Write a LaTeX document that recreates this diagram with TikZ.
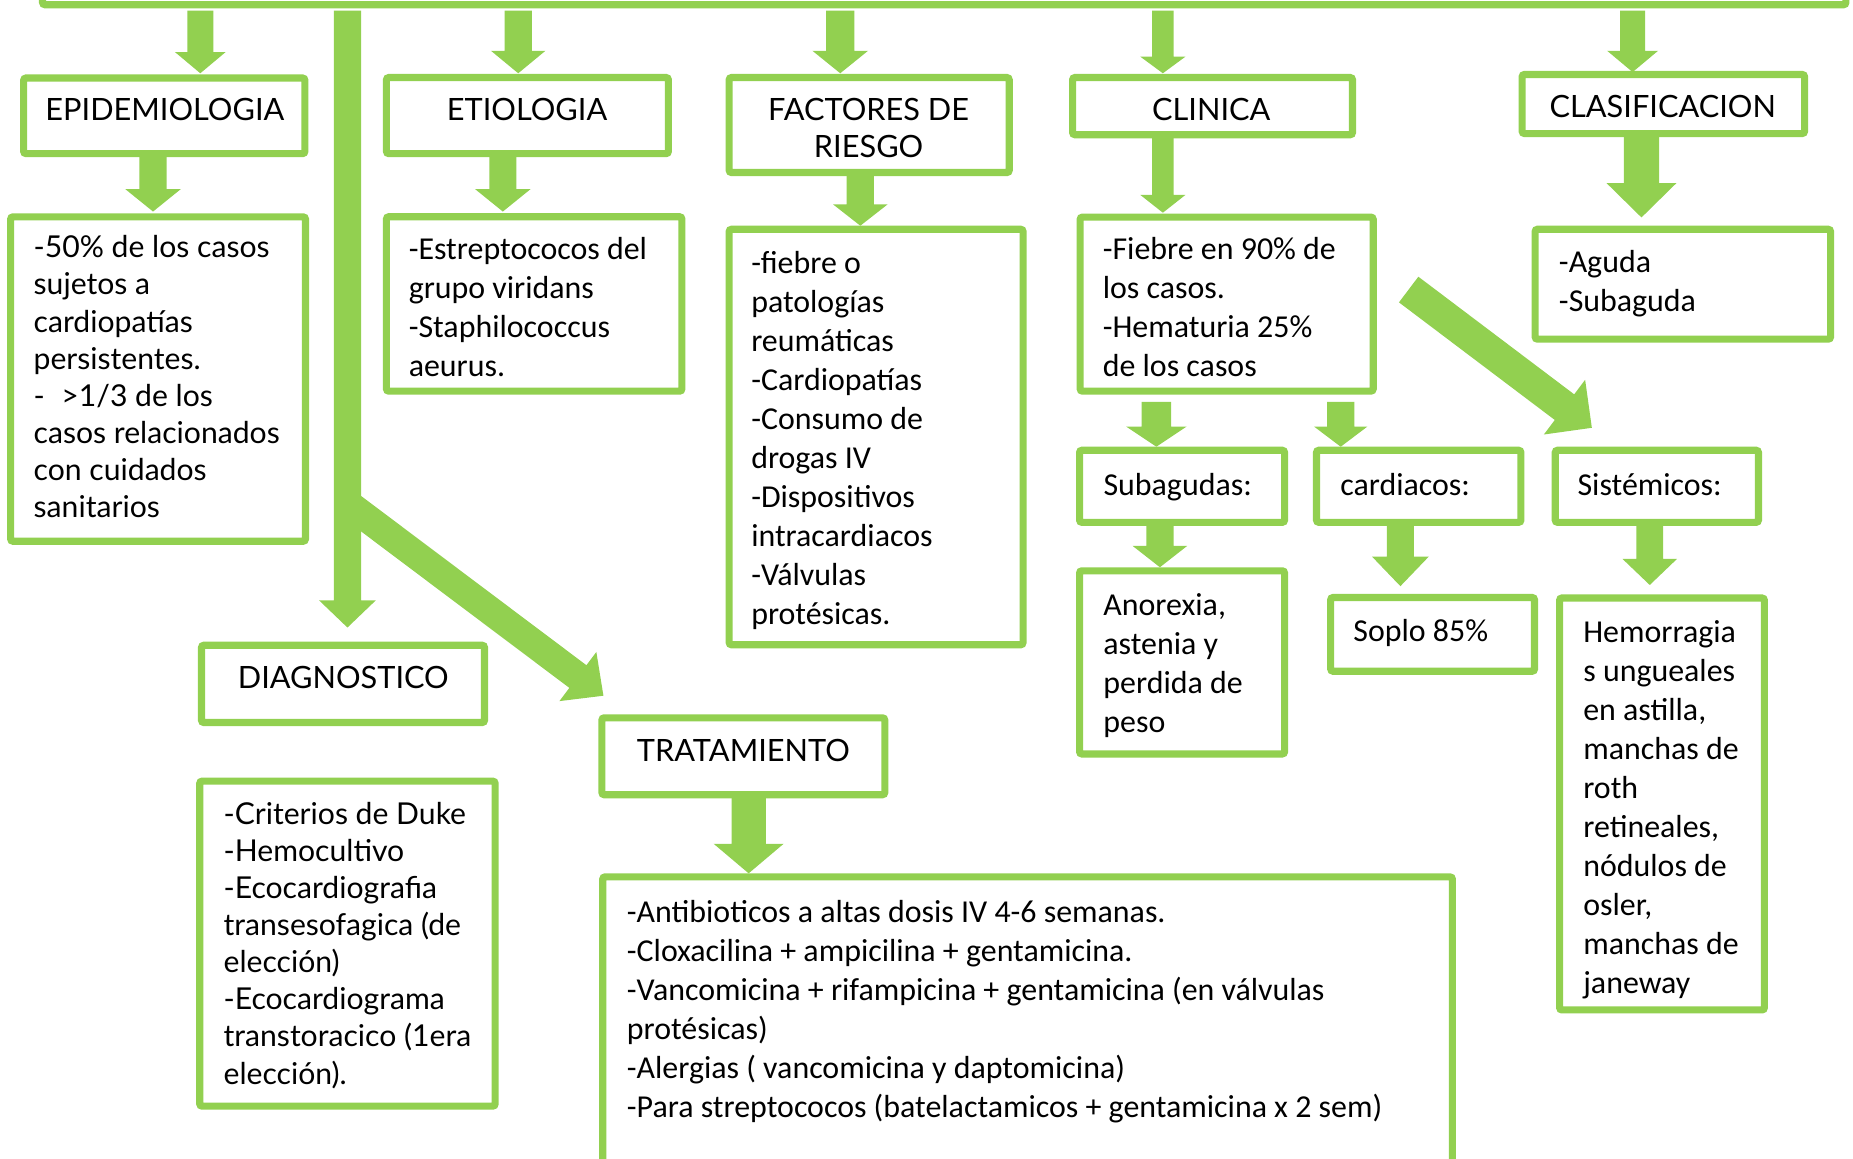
\documentclass[tikz,border=0pt]{standalone}
\usepackage{fontspec}
\setmainfont{Carlito}
\newfontfamily\gill{Lato}
\usetikzlibrary{calc}
\definecolor{lg}{HTML}{92D050}
\newcommand\fl{\rule{0pt}{24pt}}
\newcommand\gl{\rule{0pt}{22pt}}
% block arrow: start, end, shaft half width, head half width, head length
\newcommand\barrow[5]{%
  \coordinate (ba-h) at ($(#2)!#5!(#1)$);
  \fill[lg] ($(#1)!#3!90:(ba-h)$) -- ($(ba-h)!#3!-90:(#1)$) -- ($(ba-h)!#4!-90:(#1)$) -- (#2)
    -- ($(ba-h)!#4!90:(#1)$) -- ($(ba-h)!#3!90:(#1)$) -- ($(#1)!#3!-90:(ba-h)$) -- cycle;}
% box: name, x1, y1, x2, y2 (line centres)
\newcommand\bx[5]{\node[box,anchor=north west,minimum width={(#4-#2)*1pt},minimum height={(#5-#3)*1pt}] (#1) at (#2,#3) {};}
\tikzset{
  box/.style={draw=lg,line width=6pt,rounded corners=2pt,inner sep=0pt,outer sep=0pt},
  body/.style={anchor=north west,align=left,inner sep=0pt,font=\fontsize{27}{33}\selectfont},
  gbody/.style={anchor=north west,align=left,inner sep=0pt,font=\gill\fontsize{25.5}{31.4}\selectfont},
  one/.style={anchor=base west,inner sep=0pt,font=\fontsize{27}{33}\selectfont},
  head/.style={anchor=base,inner sep=0pt,font=\gill\fontsize{26}{31}\selectfont},
}
\begin{document}
\begin{tikzpicture}[x=1pt,y=-1pt]
\useasboundingbox (0,0) rectangle (1568,980.7);
\clip (0,0) rectangle (1568,980.7);
\fill[white] (0,0) rectangle (1568,980.7);

% arrow end points
\coordinate (a1s) at (169.5,9);   \coordinate (a1e) at (169.5,62);
\coordinate (a2s) at (438.5,9);   \coordinate (a2e) at (438.5,62);
\coordinate (a3s) at (711,9);     \coordinate (a3e) at (711,62);
\coordinate (a4s) at (984,9);     \coordinate (a4e) at (984,62);
\coordinate (a5s) at (1381.5,9);  \coordinate (a5e) at (1381.5,61);
\coordinate (a6s) at (294,9);     \coordinate (a6e) at (294,531);
\coordinate (a7s) at (129.5,130); \coordinate (a7e) at (129.5,179);
\coordinate (a8s) at (425.5,130); \coordinate (a8e) at (425.5,179);
\coordinate (a9s) at (728,146);   \coordinate (a9e) at (728,191);
\coordinate (a10s) at (984,114);  \coordinate (a10e) at (984,180);
\coordinate (a11s) at (1389,113); \coordinate (a11e) at (1389,184);
\coordinate (a12s) at (978.5,340); \coordinate (a12e) at (978.5,378);
\coordinate (a13s) at (1134.5,340); \coordinate (a13e) at (1134.5,378);
\coordinate (a14s) at (981.5,442); \coordinate (a14e) at (981.5,480);
\coordinate (a15s) at (1185,442); \coordinate (a15e) at (1185,496);
\coordinate (a16s) at (1396,442); \coordinate (a16e) at (1396,495);
\coordinate (a17s) at (633.5,672); \coordinate (a17e) at (633.5,739);
\coordinate (a18s) at (294,426);  \coordinate (a18e) at (510.6,588.7);
\coordinate (a19s) at (1192,245); \coordinate (a19e) at (1347,362);

\barrow{a1s}{a1e}{11pt}{21.5pt}{18pt}
\barrow{a2s}{a2e}{11.5pt}{23pt}{19pt}
\barrow{a3s}{a3e}{12pt}{23.5pt}{19pt}
\barrow{a4s}{a4e}{9pt}{19pt}{14pt}
\barrow{a5s}{a5e}{10.5pt}{21.5pt}{18pt}
\barrow{a6s}{a6e}{11.5pt}{24pt}{23pt}
\barrow{a7s}{a7e}{11.5pt}{23.5pt}{19pt}
\barrow{a8s}{a8e}{11.5pt}{23.5pt}{19pt}
\barrow{a9s}{a9e}{11.5pt}{23pt}{18pt}
\barrow{a10s}{a10e}{9pt}{19pt}{15pt}
\barrow{a11s}{a11e}{15pt}{29.5pt}{29pt}
\barrow{a12s}{a12e}{12.5pt}{25.5pt}{17pt}
\barrow{a13s}{a13e}{11.5pt}{22.5pt}{17pt}
\barrow{a14s}{a14e}{11.5pt}{23pt}{18pt}
\barrow{a15s}{a15e}{11.5pt}{24pt}{25pt}
\barrow{a16s}{a16e}{11.25pt}{23pt}{22pt}
\barrow{a17s}{a17e}{14.5pt}{29.6pt}{25pt}
\barrow{a18s}{a18e}{12pt}{26pt}{27pt}
\barrow{a19s}{a19e}{13.6pt}{29pt}{29pt}

% boxes
\bx{topbar}{36}{-40}{1562}{4}
\bx{epi}{20}{66}{258}{130}
\bx{epib}{9}{183.5}{258.5}{458}
\bx{etio}{327}{65.6}{565.6}{130}
\bx{etiob}{327}{183.4}{577}{331}
\bx{fact}{617}{65.6}{854}{146}
\bx{factb}{617}{194}{865.7}{545.6}
\bx{clin}{907.6}{65.6}{1144.5}{114}
\bx{clinb}{914}{183.7}{1162}{331}
\bx{clas}{1288}{63}{1527}{113}
\bx{clasb}{1299}{194}{1549}{287}
\bx{suba}{913.5}{381}{1087}{442}
\bx{card}{1114}{381}{1287}{442}
\bx{sist}{1316}{381}{1488}{442}
\bx{anor}{913.5}{483}{1087}{638}
\bx{soplo}{1126}{505.6}{1298.5}{568}
\bx{hemo}{1319.7}{506}{1493}{854.6}
\bx{diag}{170.5}{546}{410}{611.4}
\bx{diagb}{169}{661}{419}{936}
\bx{trat}{509.3}{607.4}{748.7}{672.5}
\bx{tratb}{510}{742}{1229}{1010}

% headings
\node[head] (epit) at (139.5,102) {EPIDEMIOLOGIA};
\node[head] (etiot) at (446,102) {ETIOLOGIA};
\node[head,anchor=north,align=center] (factt) at (735,80) {\gl FACTORES DE\\RIESGO};
\node[head] (clint) at (1025,102) {CLINICA};
\node[head] (clast) at (1407,99.3) {CLASIFICACION};
\node[head] (diagt) at (290.5,582.4) {DIAGNOSTICO};
\node[head] (tratt) at (629,644) {TRATAMIENTO};

% contents
\node[gbody] (epibt) at (28.3,196) {\gl-50\% de los casos\\sujetos a\\cardiopatías\\persistentes.\\-\hspace{14pt}>1/3 de los\\casos relacionados\\con cuidados\\sanitarios};
\node[body] (etiobt) at (345.7,195) {\fl-Estreptococos del\\grupo viridans\\-Staphilococcus\\aeurus.};
\node[body] (factbt) at (635.5,207) {\fl-fiebre o\\patologías\\reumáticas\\-Cardiopatías\\-Consumo de\\drogas IV\\-Dispositivos\\intracardiacos\\-Válvulas\\protésicas.};
\node[body] (clinbt) at (933,195) {\fl-Fiebre en 90\% de\\los casos.\\-Hematuria 25\%\\de los casos};
\node[body] (clasbt) at (1319,206.7) {\fl-Aguda\\-Subaguda};
\node[one] (subat) at (933.6,419) {Subagudas:};
\node[one] (cardt) at (1134,419) {cardiacos:};
\node[one] (sistt) at (1334.7,419) {Sistémicos:};
\node[body] (anort) at (933.5,496.7) {\fl Anorexia,\\astenia y\\perdida de\\peso};
\node[one] (soplot) at (1145,543) {Soplo 85\%};
\node[body] (hemot) at (1339.6,519.5) {\fl Hemorragia\\s ungueales\\en astilla,\\manchas de\\roth\\retineales,\\nódulos de\\osler,\\manchas de\\janeway};
\node[gbody] (diagbt) at (189,675.3) {\gl-Criterios de Duke\\-Hemocultivo\\-Ecocardiografia\\transesofagica (de\\elección)\\-Ecocardiograma\\transtoracico (1era\\elección).};
\node[body] (tratbt) at (530.3,756) {\fl-Antibioticos a altas dosis IV 4-6 semanas.\\-Cloxacilina + ampicilina + gentamicina.\\-Vancomicina + rifampicina + gentamicina (en válvulas\\protésicas)\\-Alergias ( vancomicina y daptomicina)\\-Para streptococos (batelactamicos + gentamicina x 2 sem)};
\end{tikzpicture}
\end{document}
